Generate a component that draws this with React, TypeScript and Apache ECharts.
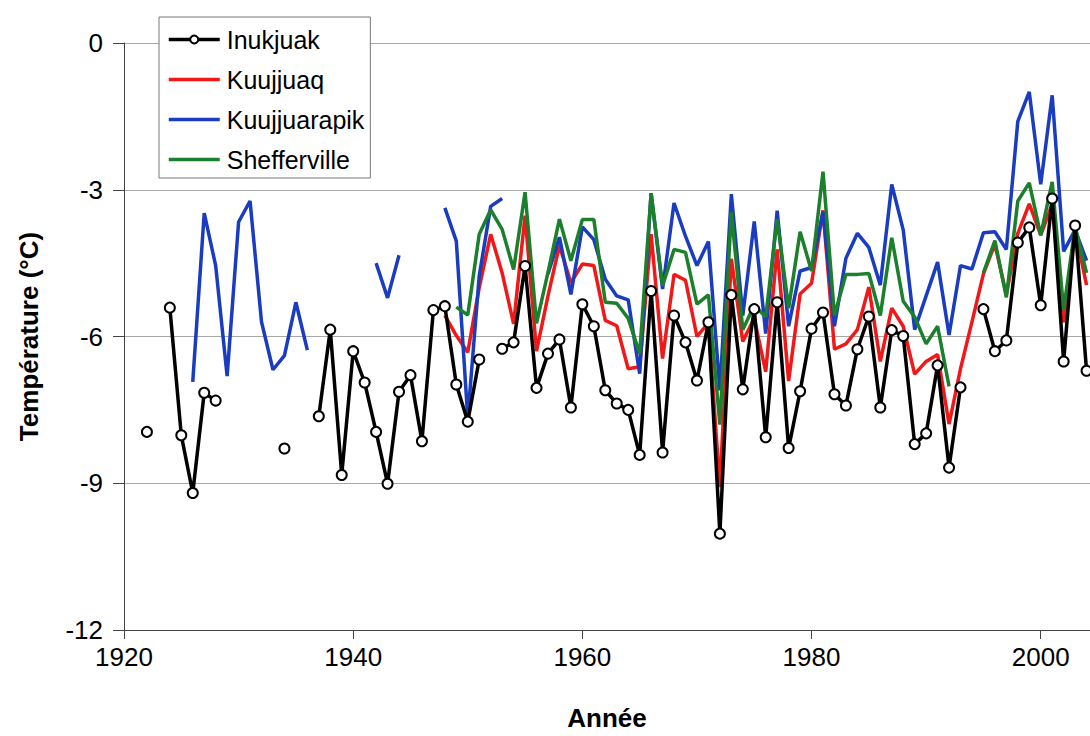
import React, { useEffect, useRef } from "react";
import * as echarts from "echarts";

// Annual mean temperature (°C), one value per year from the start year; null = no data
const inukjuakStart = 1922;
const inukjuak = [
  -7.95, null, -5.41, -8.02, -9.2, -7.15, -7.31,
  null, null, null, null, null,
  -8.29, null, null,
  -7.63, -5.86, -8.83, -6.3, -6.94, -7.95, -9.01, -7.13, -6.79, -8.14, -5.46, -5.38, -6.98, -7.74, -6.47,
  null,
  -6.25, -6.12, -4.56, -7.05, -6.35, -6.06, -7.45, -5.34, -5.79, -7.1, -7.37, -7.5, -8.42, -5.07, -8.37, -5.57, -6.12, -6.9, -5.71, -10.03,
  -5.15, -7.08, -5.44, -8.06, -5.3, -8.28, -7.12, -5.84, -5.51, -7.18, -7.41, -6.26, -5.59, -7.45, -5.87, -5.99, -8.2, -7.98, -6.59, -8.68, -7.04,
  null,
  -5.44, -6.3, -6.08, -4.08, -3.77, -5.36, -3.18, -6.51, -3.73, -6.7,
];

const kuujjuaqStart = 1948;
const kuujjuaq = [
  -5.57, -5.98, -6.32, -5.0, -3.91, -4.7, -5.74, -3.53, -6.3, -5.17, -4.14, -4.9, -4.52, -4.55, -5.67, -5.78,
  -6.66, -6.62, -3.91, -6.45, -4.73, -4.85, -6.0, -5.72, -9.08, -4.41, -6.1, -5.63, -6.72, -4.22, -6.91, -5.13,
  -4.91, -3.42, -6.26, -6.15, -5.86, -4.99, -6.51, -5.42, -5.79, -6.77, -6.51, -6.37, -7.79, -6.66, -5.7, -4.72,
  -4.11, -5.15, -3.89, -3.29, -3.93, -3.29, -5.71, -3.82, -4.95,
];

const kuujjuarapikStart = 1926;
const kuujjuarapik = [
  -6.93, -3.48, -4.55, -6.81, -3.66, -3.23, -5.7, -6.68, -6.39, -5.3, -6.28,
  null, null, null, null, null,
  -4.5, -5.21, -4.34,
  null, null, null,
  -3.37, -4.05, -7.67, -4.76, -3.34, -3.18,
  null, null, null,
  -4.72, -3.97, -5.14, -3.76, -4.02, -4.83, -5.17, -5.25, -6.76, -3.07, -5.03, -3.27, -3.95, -4.55, -4.06, -7.1,
  -3.09, -5.57, -3.65, -5.94, -3.43, -5.79, -4.66, -4.59, -3.45, -5.79, -4.4, -3.89, -4.18, -4.95, -2.89, -3.82,
  -5.86, -5.17, -4.48, -5.97, -4.55, -4.62, -3.88, -3.86, -4.22, -1.6, -1.0, -2.89, -1.07, -4.26, -3.82, -4.45,
];

const scheffervilleStart = 1949;
const schefferville = [
  -5.4, -5.56, -3.91, -3.41, -3.81, -4.63, -3.05, -5.73, -4.69, -3.6, -4.45, -3.61, -3.61, -5.3, -5.32, -5.63,
  -6.35, -3.07, -4.96, -4.22, -4.28, -5.34, -5.15, -7.8, -3.46, -5.86, -5.36, -5.6, -3.6, -5.42, -3.86, -4.66,
  -2.63, -5.57, -4.73, -4.73, -4.71, -5.57, -3.98, -5.28, -5.6, -6.15, -5.79, -7.02,
  null, null,
  -4.7, -4.04, -5.2, -3.23, -2.86, -3.93, -2.84, -5.46, -3.75, -4.7,
];

const seriesNames = ["Inukjuak", "Kuujjuaq", "Kuujjuarapik", "Shefferville"];
const yTicks = [0, -3, -6, -9, -12];
const xTicks = [1920, 1940, 1960, 1980, 2000];

const toPairs = (start: number, vals: (number | null)[]) =>
  vals.map((v, i) => [start + i, v === null ? null : v]);

const FONT = "'Liberation Sans', Arial, Helvetica, sans-serif";

export default function App() {
  const ref = useRef<HTMLDivElement>(null);
  useEffect(() => {
    if (!ref.current) return;
    const chart = echarts.init(ref.current, undefined, { renderer: "svg" });
    const lineW = 3.5;
    chart.setOption({
      animation: false,
      backgroundColor: "#ffffff",
      textStyle: { fontFamily: FONT },
      grid: { left: 124, top: 43, right: 0, bottom: 104, containLabel: false },
      legend: {
        orient: "vertical",
        left: 159,
        top: 17,
        data: seriesNames.map((n, i) =>
          i === 0
            ? { name: n }
            : { name: n, itemStyle: { opacity: 0, borderWidth: 0 } }
        ),
        backgroundColor: "#ffffff",
        borderColor: "#777777",
        borderWidth: 1,
        padding: [10, 6, 6, 8],
        itemGap: 15,
        itemWidth: 51,
        itemHeight: 10,
        lineStyle: { width: 3.5 },
        textStyle: { fontSize: 25, color: "#000", fontFamily: FONT, padding: [0, 0, 0, 2] },
      },
      xAxis: {
        type: "value",
        min: 1920,
        max: 2004.3,
        interval: 20,
        splitLine: { show: false },
        axisLine: { show: true, onZero: false, lineStyle: { color: "#444", width: 1 } },
        axisTick: { show: true, length: 9, lineStyle: { color: "#444" } },
        axisLabel: {
          fontSize: 26,
          color: "#000",
          margin: 14,
          showMaxLabel: false,
          formatter: (v: number) => (xTicks.includes(v) ? String(v) : ""),
          fontFamily: FONT,
        },
        name: "Année",
        nameLocation: "middle",
        nameGap: 75,
        nameTextStyle: { fontSize: 26, fontWeight: "bold", color: "#000", fontFamily: FONT },
      },
      yAxis: {
        type: "value",
        min: -12,
        max: 0,
        interval: 3,
        splitLine: { show: true, lineStyle: { color: "#a8a8a8", width: 1 } },
        axisLine: { show: true, onZero: false, lineStyle: { color: "#444", width: 1 } },
        axisTick: { show: true, length: 11, lineStyle: { color: "#444" } },
        axisLabel: {
          fontSize: 26,
          color: "#000",
          margin: 21,
          formatter: (v: number) => (yTicks.includes(v) ? String(v) : ""),
          fontFamily: FONT,
        },
        name: "Température (°C)",
        nameLocation: "middle",
        nameGap: 82,
        nameTextStyle: { fontSize: 26, fontWeight: "bold", color: "#000", fontFamily: FONT },
      },
      series: [
        {
          name: "Kuujjuaq",
          type: "line",
          data: toPairs(kuujjuaqStart, kuujjuaq),
          symbol: "none",
          connectNulls: false,
          lineStyle: { color: "#f01818", width: lineW },
          itemStyle: { color: "#f01818" },
          z: 2,
        },
        {
          name: "Kuujjuarapik",
          type: "line",
          data: toPairs(kuujjuarapikStart, kuujjuarapik),
          symbol: "none",
          connectNulls: false,
          lineStyle: { color: "#1a3cc0", width: lineW },
          itemStyle: { color: "#1a3cc0" },
          z: 3,
        },
        {
          name: "Shefferville",
          type: "line",
          data: toPairs(scheffervilleStart, schefferville),
          symbol: "none",
          connectNulls: false,
          lineStyle: { color: "#1b7f2c", width: lineW },
          itemStyle: { color: "#1b7f2c" },
          z: 4,
        },
        {
          name: "Inukjuak",
          type: "line",
          data: toPairs(inukjuakStart, inukjuak),
          symbol: "circle",
          symbolSize: 10,
          showSymbol: true,
          connectNulls: false,
          lineStyle: { color: "#000000", width: lineW },
          itemStyle: { color: "#ffffff", borderColor: "#000000", borderWidth: 2 },
          z: 5,
        },
      ],
    });
    return () => chart.dispose();
  }, []);
  return (
    <div
      ref={ref}
      style={{ position: "fixed", left: 0, top: 0, width: 1090, height: 736, background: "#fff" }}
    />
  );
}
